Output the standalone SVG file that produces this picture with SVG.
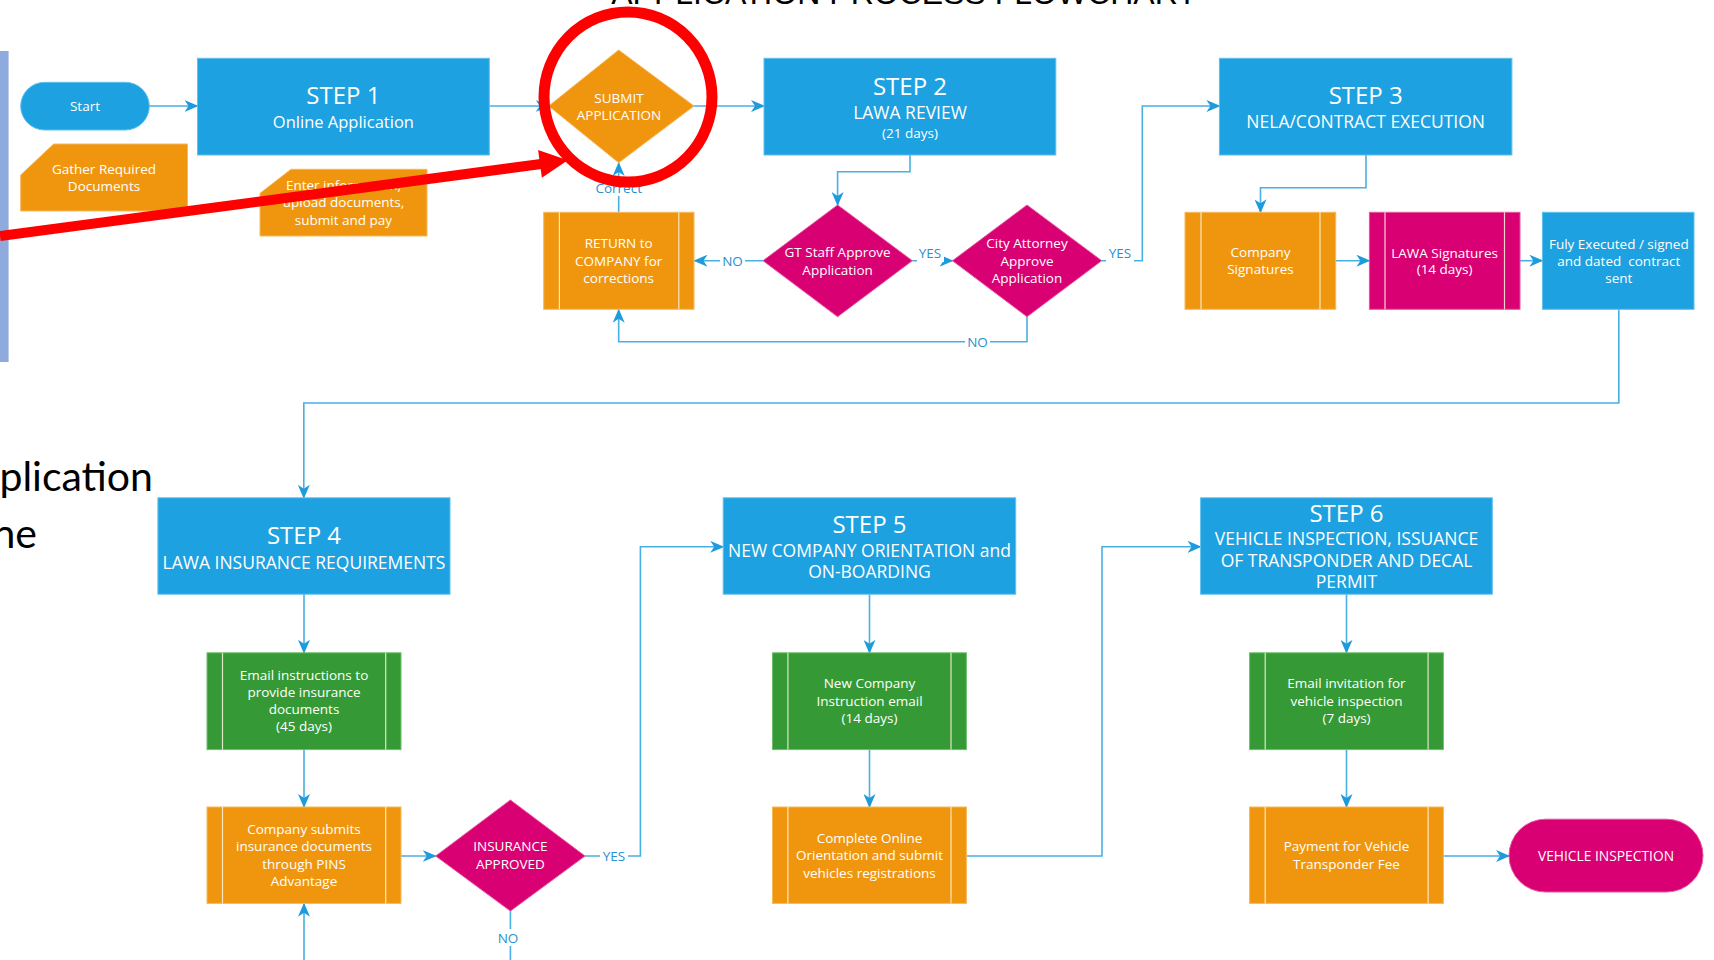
<svg xmlns="http://www.w3.org/2000/svg" width="1714" height="960" viewBox="0 0 1714 960">
<defs>
<style>
.blue{fill:#1DA1E0;stroke:#5FC0EE;stroke-width:1}
.orange{fill:#F0960E;stroke:#F6B85A;stroke-width:1}
.mag{fill:#D80073;stroke:#E8559F;stroke-width:1}
.green{fill:#359A35;stroke:#6CC06C;stroke-width:1}
.inner{stroke:#FFF6E0;stroke-width:1.2;opacity:0.85}
text{font-family:"Open Sans","Noto Sans",sans-serif;fill:#FFFFFF;text-anchor:middle}
.st{font-size:24px}
.sub{font-size:17.5px}
.sm{font-size:13.5px}
.lbl{font-size:13.5px;fill:#2B8FCF}
.conn path{fill:none;stroke:#4AAFE5;stroke-width:1.6}
.lblbg{fill:#FFFFFF}
</style>
<marker id="arr" markerUnits="userSpaceOnUse" markerWidth="14" markerHeight="12" viewBox="0 0 14 12" refX="13" refY="6" orient="auto">
<path d="M0,0 L14,6 L0,12 L4,6 z" fill="#1E9BDC"/>
</marker>
</defs>
<rect width="1714" height="960" fill="#FFFFFF"/>

<!-- background slide fragments -->
<rect x="0" y="51" width="8.6" height="311" fill="#8FAADC"/>
<text x="904" y="4" style="font-family:'Liberation Sans',Arial,sans-serif;font-size:32px;fill:#000">APPLICATION PROCESS FLOWCHART</text>
<text x="153" y="491" style="font-family:Lato,'Liberation Sans',sans-serif;font-size:41px;fill:#000;text-anchor:end">plication</text>
<text x="37" y="548" style="font-family:Lato,'Liberation Sans',sans-serif;font-size:41px;fill:#000;text-anchor:end">ne</text>

<!-- connectors -->
<g id="connectors" class="conn">
<path d="M149,106 H197.5" marker-end="url(#arr)"/>
<path d="M489.3,106 H548.7" marker-end="url(#arr)"/>
<path d="M694,106 H764" marker-end="url(#arr)"/>
<path d="M910,155 V171.7 H837.6 V205" marker-end="url(#arr)"/>
<path d="M763,260.7 H694.5" marker-end="url(#arr)"/>
<path d="M912.3,260.7 H952.5" marker-end="url(#arr)"/>
<path d="M1101.7,260.7 H1142.3 V106 H1219.4" marker-end="url(#arr)"/>
<path d="M1027,316.7 V341.7 H618.7 V309.8" marker-end="url(#arr)"/>
<path d="M618.7,212.3 V163" marker-end="url(#arr)"/>
<path d="M1366,155 V187.7 H1260.5 V212.3" marker-end="url(#arr)"/>
<path d="M1335.7,260.7 H1369.4" marker-end="url(#arr)"/>
<path d="M1520,260.7 H1542.4" marker-end="url(#arr)"/>
<path d="M1618.8,309.3 V403 H303.8 V497.8" marker-end="url(#arr)"/>
<path d="M304,594.2 V652.8" marker-end="url(#arr)"/>
<path d="M304,749.6 V807" marker-end="url(#arr)"/>
<path d="M304,960 V903.8" marker-end="url(#arr)"/>
<path d="M401,856 H435.7" marker-end="url(#arr)"/>
<path d="M585,856 H640.4 V546.8 H723.2" marker-end="url(#arr)"/>
<path d="M510.4,911 V960"/>
<path d="M869.5,594.2 V652.8" marker-end="url(#arr)"/>
<path d="M869.5,749.6 V807" marker-end="url(#arr)"/>
<path d="M966.4,856 H1102 V546.8 H1200.6" marker-end="url(#arr)"/>
<path d="M1346.5,594.2 V652.8" marker-end="url(#arr)"/>
<path d="M1346.5,749.6 V807" marker-end="url(#arr)"/>
<path d="M1443.4,856 H1509" marker-end="url(#arr)"/>
<!-- labels -->
<rect class="lblbg" x="720" y="252" width="25" height="17"/>
<text class="lbl" x="732.5" y="265.5">NO</text>
<rect class="lblbg" x="917" y="245" width="27" height="17"/>
<text class="lbl" x="930" y="258">YES</text>
<rect class="lblbg" x="1106" y="245" width="28" height="17"/>
<text class="lbl" x="1120" y="258">YES</text>
<rect class="lblbg" x="965" y="333" width="25" height="17"/>
<text class="lbl" x="977.5" y="346.5">NO</text>
<rect class="lblbg" x="596" y="180" width="45" height="16"/>
<text class="lbl" x="618.7" y="192.5">Correct</text>
<rect class="lblbg" x="600" y="847" width="28" height="17"/>
<text class="lbl" x="614" y="861">YES</text>
<rect class="lblbg" x="496" y="929" width="25" height="17"/>
<text class="lbl" x="508" y="942.5">NO</text>
</g>

<!-- nodes -->
<g id="start"><rect x="20.7" y="82.3" width="128.6" height="47.7" rx="24" class="blue"/><text class="sm" x="85" y="111">Start</text></g>

<g id="gather"><path d="M53.6,144 H187.5 V211 H20.7 V175 Z" class="orange"/>
<text class="sm" x="104" y="174">Gather Required</text><text class="sm" x="104" y="191">Documents</text></g>

<g id="step1"><rect x="197.5" y="58.3" width="291.8" height="96.7" class="blue"/>
<text class="st" x="343.4" y="104">STEP 1</text><text style="font-size:16.5px" x="343.4" y="127.7">Online Application</text></g>

<g id="enter"><path d="M291,169.3 H427 V236 H260 V193.3 Z" class="orange"/>
<text class="sm" x="343.5" y="189.5">Enter information,</text><text class="sm" x="343.5" y="207">upload documents,</text><text class="sm" x="343.5" y="224.5">submit and pay</text></g>

<g id="submit"><path d="M618.7,50 L694,106 L618.7,162.7 L548.7,106 Z" class="orange"/>
<text class="sm" x="619" y="103.3">SUBMIT</text><text class="sm" x="619" y="120">APPLICATION</text></g>

<g id="step2"><rect x="764" y="58.3" width="291.8" height="96.7" class="blue"/>
<text class="st" x="910" y="94.5">STEP 2</text><text class="sub" x="910" y="118.5">LAWA REVIEW</text><text style="font-size:13.5px" x="910" y="137.5">(21 days)</text></g>

<g id="return"><rect x="543.7" y="212.3" width="150.3" height="97" class="orange"/>
<line class="inner" x1="559.4" y1="212.3" x2="559.4" y2="309.3"/><line class="inner" x1="678.8" y1="212.3" x2="678.8" y2="309.3"/>
<text class="sm" x="618.7" y="248.3">RETURN to</text><text class="sm" x="618.7" y="265.7">COMPANY for</text><text class="sm" x="618.7" y="283.3">corrections</text></g>

<g id="gtstaff"><path d="M837.6,205 L912.3,260.7 L837.6,316.7 L763,260.7 Z" class="mag"/>
<text class="sm" x="837.6" y="256.7">GT Staff Approve</text><text class="sm" x="837.6" y="275">Application</text></g>

<g id="cityatty"><path d="M1027,205 L1101.7,260.7 L1027,316.7 L952.5,260.7 Z" class="mag"/>
<text class="sm" x="1027" y="248.3">City Attorney</text><text class="sm" x="1027" y="266">Approve</text><text class="sm" x="1027" y="283.3">Application</text></g>

<g id="step3"><rect x="1219.4" y="58.3" width="292.5" height="96.7" class="blue"/>
<text class="st" x="1365.7" y="104">STEP 3</text><text class="sub" x="1365.7" y="127.7">NELA/CONTRACT EXECUTION</text></g>

<g id="compsig"><rect x="1185" y="212.3" width="150.7" height="97" class="orange"/>
<line class="inner" x1="1201" y1="212.3" x2="1201" y2="309.3"/><line class="inner" x1="1320" y1="212.3" x2="1320" y2="309.3"/>
<text class="sm" x="1260.5" y="257.3">Company</text><text class="sm" x="1260.5" y="274.3">Signatures</text></g>

<g id="lawasig"><rect x="1369.4" y="212.3" width="150.6" height="97" class="mag"/>
<line class="inner" x1="1385" y1="212.3" x2="1385" y2="309.3"/><line class="inner" x1="1504.5" y1="212.3" x2="1504.5" y2="309.3"/>
<text class="sm" x="1444.6" y="257.5">LAWA Signatures</text><text class="sm" x="1444.6" y="274.3">(14 days)</text></g>

<g id="fully"><rect x="1542.4" y="212.3" width="151.6" height="97" class="blue"/>
<text class="sm" x="1618.8" y="248.5">Fuly Executed / signed</text><text class="sm" x="1618.8" y="265.8" xml:space="preserve">and dated  contract</text><text class="sm" x="1618.8" y="282.8">sent</text></g>

<g id="step4"><rect x="157.9" y="497.8" width="292.1" height="96.4" class="blue"/>
<text class="st" x="304" y="543.7">STEP 4</text><text class="sub" x="304" y="568.6">LAWA INSURANCE REQUIREMENTS</text></g>

<g id="emailins"><rect x="207" y="652.8" width="194" height="96.8" class="green"/>
<line class="inner" x1="222.5" y1="652.8" x2="222.5" y2="749.6"/><line class="inner" x1="385.7" y1="652.8" x2="385.7" y2="749.6"/>
<text class="sm" x="304" y="679.5">Email instructions to</text><text class="sm" x="304" y="696.7">provide insurance</text><text class="sm" x="304" y="713.9">documents</text><text class="sm" x="304" y="731.1">(45 days)</text></g>

<g id="compsub"><rect x="207" y="807" width="194" height="96.4" class="orange"/>
<line class="inner" x1="222.5" y1="807" x2="222.5" y2="903.4"/><line class="inner" x1="385.7" y1="807" x2="385.7" y2="903.4"/>
<text class="sm" x="304" y="834">Company submits</text><text class="sm" x="304" y="851.4">insurance documents</text><text class="sm" x="304" y="869">through PINS</text><text class="sm" x="304" y="886">Advantage</text></g>

<g id="insapp"><path d="M510.4,800 L585,856 L510.4,911 L435.7,856 Z" class="mag"/>
<text class="sm" x="510.4" y="851">INSURANCE</text><text class="sm" x="510.4" y="869.4">APPROVED</text></g>

<g id="step5"><rect x="723.2" y="497.8" width="292.5" height="96.4" class="blue"/>
<text class="st" x="869.5" y="533">STEP 5</text><text class="sub" x="869.5" y="556.5">NEW COMPANY ORIENTATION and</text><text class="sub" x="869.5" y="577.9">ON-BOARDING</text></g>

<g id="newcomp"><rect x="772.5" y="652.8" width="193.9" height="96.8" class="green"/>
<line class="inner" x1="787.9" y1="652.8" x2="787.9" y2="749.6"/><line class="inner" x1="951" y1="652.8" x2="951" y2="749.6"/>
<text class="sm" x="869.5" y="688.4">New Company</text><text class="sm" x="869.5" y="705.6">Instruction email</text><text class="sm" x="869.5" y="722.8">(14 days)</text></g>

<g id="complete"><rect x="772.5" y="807" width="193.9" height="96.4" class="orange"/>
<line class="inner" x1="787.9" y1="807" x2="787.9" y2="903.4"/><line class="inner" x1="951" y1="807" x2="951" y2="903.4"/>
<text class="sm" x="869.5" y="842.6">Complete Online</text><text class="sm" x="869.5" y="860.4">Orientation and submit</text><text class="sm" x="869.5" y="877.8">vehicles registrations</text></g>

<g id="step6"><rect x="1200.6" y="497.8" width="291.7" height="96.4" class="blue"/>
<text class="st" x="1346.5" y="521.6">STEP 6</text><text class="sub" x="1346.5" y="545.3">VEHICLE INSPECTION, ISSUANCE</text><text class="sub" x="1346.5" y="567.2">OF TRANSPONDER AND DECAL</text><text class="sub" x="1346.5" y="588.3">PERMIT</text></g>

<g id="emailinv"><rect x="1249.6" y="652.8" width="193.8" height="96.8" class="green"/>
<line class="inner" x1="1265.2" y1="652.8" x2="1265.2" y2="749.6"/><line class="inner" x1="1428.1" y1="652.8" x2="1428.1" y2="749.6"/>
<text class="sm" x="1346.5" y="688.4">Email invitation for</text><text class="sm" x="1346.5" y="705.6">vehicle inspection</text><text class="sm" x="1346.5" y="722.8">(7 days)</text></g>

<g id="payment"><rect x="1249.6" y="807" width="193.8" height="96.4" class="orange"/>
<line class="inner" x1="1265.2" y1="807" x2="1265.2" y2="903.4"/><line class="inner" x1="1428.1" y1="807" x2="1428.1" y2="903.4"/>
<text class="sm" x="1346.5" y="851">Payment for Vehicle</text><text class="sm" x="1346.5" y="869">Transponder Fee</text></g>

<g id="vehinsp"><rect x="1509" y="819.2" width="194" height="72.8" rx="36.4" class="mag"/>
<text style="font-size:13.8px" x="1606" y="861">VEHICLE INSPECTION</text></g>

<!-- red annotation -->
<g id="annotation">
<line x1="0" y1="236" x2="541" y2="164" stroke="#FF0000" stroke-width="10"/>
<polygon points="567.8,160.2 541.9,177.8 538.1,150" fill="#FF0000"/>
<ellipse cx="628" cy="97" rx="84" ry="85" fill="none" stroke="#FF0000" stroke-width="11"/>
</g>
</svg>
